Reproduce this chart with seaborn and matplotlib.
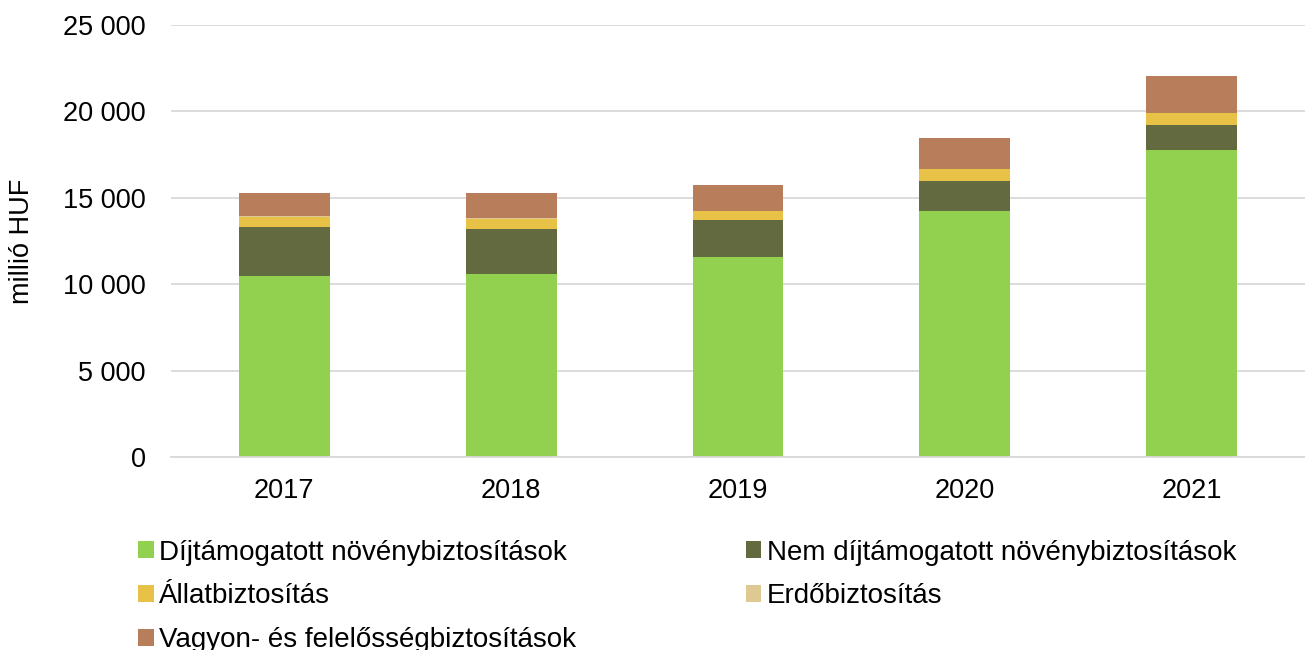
import matplotlib
matplotlib.use('Agg')
import seaborn as sns
from matplotlib import pyplot as plt
from matplotlib.patches import Patch
from matplotlib.ticker import FuncFormatter

# values in million HUF
years = ['2017', '2018', '2019', '2020', '2021']
dijtamogatott = [10460, 10610, 11570, 14240, 17750]
nem_dijtamogatott = [2830, 2570, 2130, 1750, 1450]
allat = [610, 620, 540, 680, 710]
erdo = [20, 20, 20, 20, 20]
vagyon = [1380, 1460, 1460, 1770, 2140]

labels = ['Díjtámogatott növénybiztosítások',
          'Nem díjtámogatott növénybiztosítások',
          'Állatbiztosítás',
          'Erdőbiztosítás',
          'Vagyon- és felelősségbiztosítások']
colors = ['#92D050', '#636A40', '#E8C246', '#DFC993', '#B87D5B']
series = [dijtamogatott, nem_dijtamogatott, allat, erdo, vagyon]

FONT = 19.5
LEGEND_FONT = 20

sns.set_style('white')
plt.rcParams['font.family'] = ['Liberation Sans', 'DejaVu Sans']
plt.rcParams['text.color'] = 'black'
plt.rcParams['axes.labelcolor'] = 'black'
plt.rcParams['xtick.color'] = 'black'
plt.rcParams['ytick.color'] = 'black'

fig = plt.figure(figsize=(13.05, 6.5), dpi=100)
ax = fig.add_axes([0.131, 0.297, 0.869, 0.6645])

bottom = [0] * len(years)
for values, color in zip(series, colors):
    sns.barplot(x=years, y=values, bottom=bottom, color=color, width=0.4,
                saturation=1, linewidth=0, ax=ax)
    bottom = [b + v for b, v in zip(bottom, values)]

ax.set_ylim(0, 25000)
ax.set_xlim(-0.5, 4.5)
ax.set_yticks(range(0, 25001, 5000))
ax.yaxis.set_major_formatter(
    FuncFormatter(lambda v, _: '{:,}'.format(int(v)).replace(',', ' ')))
ax.grid(axis='y', color='#D9D9D9', linewidth=1.3)
ax.set_axisbelow(True)
sns.despine(ax=ax, left=True, top=True, right=True)
ax.spines['bottom'].set_color('#D9D9D9')
ax.spines['bottom'].set_linewidth(1.3)
ax.tick_params(axis='y', length=0, pad=18, labelsize=FONT)
ax.tick_params(axis='x', length=0, pad=15, labelsize=FONT)
ax.set_xlabel('')
ax.set_ylabel('millió HUF', fontsize=FONT)
ax.yaxis.set_label_coords(-0.12, 0.5)

# legend is filled column-wise, so reorder to get the row layout
handles = [Patch(facecolor=c, edgecolor='none') for c in colors]
order = [0, 2, 4, 1, 3]
fig.legend([handles[i] for i in order], [labels[i] for i in order],
           ncol=2, loc='upper left', bbox_to_anchor=(0.106, 0.170),
           bbox_transform=fig.transFigure, frameon=False,
           fontsize=LEGEND_FONT, handlelength=0.55, handleheight=0.55,
           handletextpad=0.2, labelspacing=0.64, columnspacing=6.1,
           borderaxespad=0, borderpad=0)

fig.savefig('out.png', dpi=100)
